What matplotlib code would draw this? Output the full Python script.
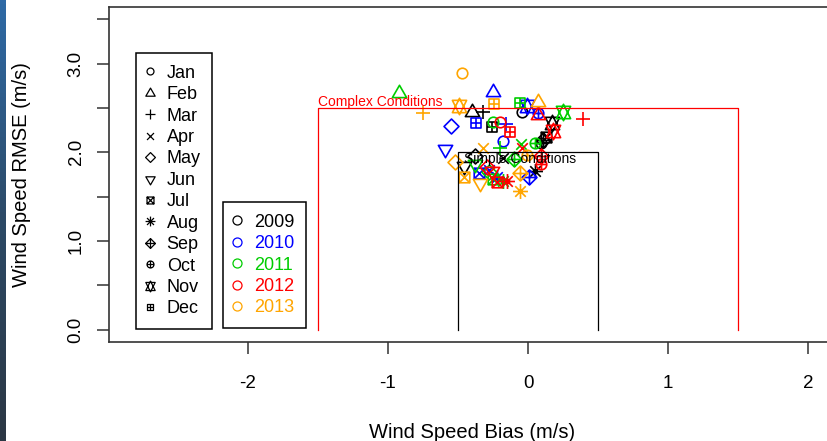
import numpy as np
import matplotlib.pyplot as plt
from matplotlib.path import Path
from matplotlib.markers import MarkerStyle
from matplotlib.lines import Line2D
from matplotlib.colors import LinearSegmentedColormap

plt.rcParams['font.family'] = ['Liberation Sans', 'DejaVu Sans']
plt.rcParams['axes.unicode_minus'] = False

# Data: monthly wind speed bias / RMSE per year
months = ['Jan', 'Feb', 'Mar', 'Apr', 'May', 'Jun',
          'Jul', 'Aug', 'Sep', 'Oct', 'Nov', 'Dec']
years = ['2009', '2010', '2011', '2012', '2013']
year_colors = ['black', '#0000FF', '#00CD00', '#FF0000', '#FFA500']

bias_2009 = [-0.04, -0.40, -0.32, -0.18, -0.38, -0.46, 0.13, 0.05, 0.11, 0.09, 0.17, -0.26]
rmse_2009 = [2.45, 2.45, 2.45, 1.94, 1.96, 1.85, 2.17, 1.79, 2.14, 2.11, 2.33, 2.29]
bias_2010 = [-0.18, -0.25, -0.16, -0.28, -0.55, -0.59, -0.35, -0.22, 0.01, 0.07, -0.01, -0.37]
rmse_2010 = [2.13, 2.68, 2.32, 1.80, 2.30, 2.04, 1.77, 1.72, 1.72, 2.44, 2.52, 2.33]
bias_2011 = [-0.25, -0.92, -0.20, -0.05, -0.28, -0.38, -0.25, -0.18, -0.10, 0.05, 0.25, -0.06]
rmse_2011 = [2.34, 2.67, 2.05, 2.09, 1.78, 1.87, 1.70, 1.68, 1.92, 2.10, 2.46, 2.56]
bias_2012 = [-0.20, 0.07, 0.39, -0.04, -0.29, -0.26, -0.22, -0.15, 0.09, 0.09, 0.18, -0.13]
rmse_2012 = [2.34, 2.42, 2.38, 2.05, 1.83, 1.79, 1.66, 1.68, 1.96, 1.87, 2.24, 2.23]
bias_2013 = [-0.47, 0.07, -0.75, -0.32, -0.52, -0.34, -0.46, -0.06, -0.06, -0.01, -0.49, -0.24]
rmse_2013 = [2.89, 2.57, 2.44, 2.05, 1.89, 1.65, 1.72, 1.56, 1.77, 1.97, 2.52, 2.54]

bias = [bias_2009, bias_2010, bias_2011, bias_2012, bias_2013]
rmse = [rmse_2009, rmse_2010, rmse_2011, rmse_2012, rmse_2013]

# threshold boxes
complex_bias, complex_rmse = 1.5, 2.5
simple_bias, simple_rmse = 0.5, 2.0


# R-style pch symbols 1..12 as paths
def seg(*pts):
    return Path(pts, [Path.MOVETO] + [Path.LINETO] * (len(pts) - 1))

def poly(*pts):
    pts = list(pts) + [pts[0]]
    return Path(pts, [Path.MOVETO] + [Path.LINETO] * (len(pts) - 2) + [Path.CLOSEPOLY])

def plus(r):
    return Path.make_compound_path(seg((-r, 0), (r, 0)), seg((0, -r), (0, r)))

def cross(r):
    return Path.make_compound_path(seg((-r, -r), (r, r)), seg((-r, r), (r, -r)))

a, b, c, d, s2 = 1.555, 1.347, 0.778, 1.166, 1.414
circle = Path.circle((0, 0), 1)
square = poly((-1, -1), (1, -1), (1, 1), (-1, 1))
diamond = poly((0, s2), (s2, 0), (0, -s2), (-s2, 0))
cp = Path.make_compound_path
month_paths = [
    circle,
    poly((0, a), (b, -c), (-b, -c)),
    plus(s2),
    cross(1),
    diamond,
    poly((0, -a), (b, c), (-b, c)),
    cp(square, cross(1)),
    cp(cross(1), plus(s2)),
    cp(diamond, plus(s2)),
    cp(circle, plus(1)),
    cp(poly((0, a), (b, -d), (-b, -d)), poly((0, -a), (b, d), (-b, d))),
    cp(square, plus(1)),
]
month_ext = [np.abs(p.vertices).max() for p in month_paths]

W, H = 827, 441
fig = plt.figure(figsize=(W / 100, H / 100), dpi=100)
ax = fig.add_axes([109 / W, 1 - 342 / H, (835 - 109) / W, (342 - 7) / H])

# dark slide edge on the left
sax = fig.add_axes([0, 0, 6 / W, 1])
edge_cmap = LinearSegmentedColormap.from_list('edge', ['#2f6aa6', '#2c4a66', '#2b3744'])
sax.imshow(np.linspace(0, 1, 100).reshape(-1, 1), aspect='auto', cmap=edge_cmap)
sax.axis('off')

base = 7.6
for yi in range(len(years)):
    for mi in range(len(months)):
        ax.plot(bias[yi][mi], rmse[yi][mi], ls='none',
                marker=MarkerStyle(month_paths[mi]), ms=base * month_ext[mi],
                mfc='none', mec=year_colors[yi], mew=1.2)

ax.plot([-complex_bias, -complex_bias, complex_bias, complex_bias],
        [0, complex_rmse, complex_rmse, 0], color='red', lw=0.9)
ax.plot([-simple_bias, -simple_bias, simple_bias, simple_bias],
        [0, simple_rmse, simple_rmse, 0], color='black', lw=0.9)
ax.text(-complex_bias, complex_rmse + 0.065, 'Complex Conditions', color='red',
        fontsize=10, ha='left', va='center')
ax.text(-0.46, simple_rmse - 0.07, 'Simple Conditions', color='black',
        fontsize=10, ha='left', va='center')

ax.set_xlim(-2.992, 2.192)
ax.set_ylim(-0.14, 3.64)
ax.set_xticks([-2, -1, 0, 1, 2])
ax.set_yticks([0, 1, 2, 3])
ax.set_yticklabels(['0.0', '1.0', '2.0', '3.0'], rotation=90, va='center')
ax.set_yticks([0.5, 1.5, 2.5, 3.5], minor=True)
ax.tick_params(axis='both', which='both', length=8.6, width=1.1, color='#333333',
               labelsize=13.5)
ax.tick_params(axis='x', pad=15.5)
ax.tick_params(axis='y', pad=9)
for sp in ax.spines.values():
    sp.set_linewidth(1.2)
    sp.set_color('#333333')

ax.set_xlabel('Wind Speed Bias (m/s)', fontsize=14.5, va='center')
ax.xaxis.set_label_coords(0.5, (342 - 432) / 335)
ax.set_ylabel('Wind Speed RMSE (m/s)', fontsize=14.5, va='center')
ax.yaxis.set_label_coords((22 - 109) / 726, 0.5)

# legends
leg_kw = dict(loc='upper left', bbox_transform=fig.transFigure, frameon=True,
              fancybox=False, framealpha=1, edgecolor='black', fontsize=13,
              borderpad=0.65, labelspacing=0.245, handlelength=0.3,
              handletextpad=0.75, borderaxespad=0)
mhandles = [Line2D([], [], ls='none', marker=MarkerStyle(month_paths[i]),
                   ms=5.0 * month_ext[i], mfc='none', mec='black', mew=0.9)
            for i in range(len(months))]
leg1 = ax.legend(mhandles, months, bbox_to_anchor=(136 / W, 1 - 53 / H), **leg_kw)
leg1.get_frame().set_linewidth(1.1)
ax.add_artist(leg1)

yhandles = [Line2D([], [], ls='none', marker='o', ms=6.5, mfc='none',
                   mec=year_colors[i], mew=0.9) for i in range(len(years))]
leg2 = ax.legend(yhandles, years, bbox_to_anchor=(223 / W, 1 - 202 / H), **leg_kw)
leg2.get_frame().set_linewidth(1.1)
for t, col in zip(leg2.get_texts(), year_colors):
    t.set_color(col)

fig.savefig('out.png', dpi=100)
